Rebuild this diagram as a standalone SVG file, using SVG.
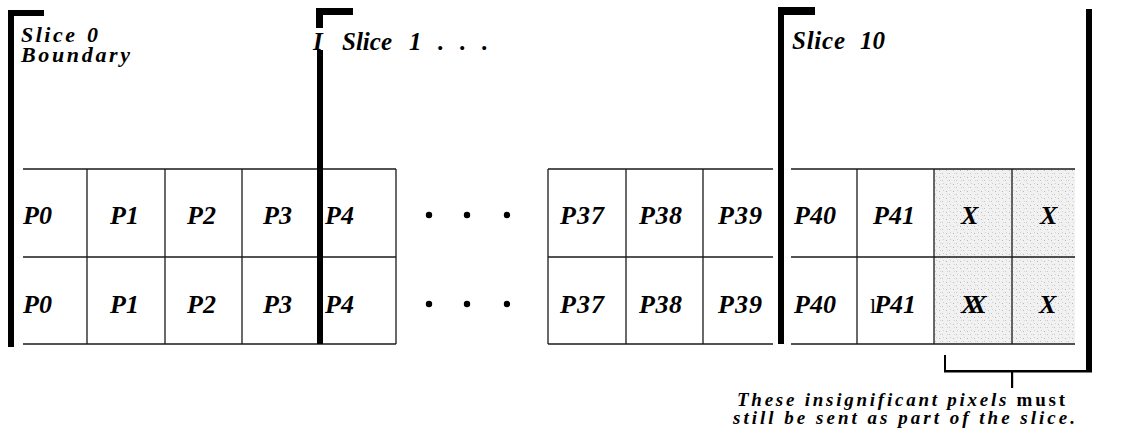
<svg xmlns="http://www.w3.org/2000/svg" width="1140" height="438" viewBox="0 0 1140 438">
  <defs>
    <pattern id="speckle" width="7" height="7" patternUnits="userSpaceOnUse">
      <rect width="7" height="7" fill="#f1f1f1"/>
      <rect x="1" y="2" width="1" height="1" fill="#b8b8b8"/>
      <rect x="4" y="5" width="1" height="1" fill="#c4c4c4"/>
      <rect x="5" y="1" width="1" height="1" fill="#cfcfcf"/>
      <rect x="2" y="5" width="1" height="1" fill="#d6d6d6"/>
    </pattern>
  </defs>
  <style>
    .bar { fill: #000; }
    .grid line { stroke: #1a1a1a; stroke-width: 1.3; }
    .cell text { font-family: "Liberation Serif", serif; font-weight: bold; font-style: italic; font-size: 26px; fill: #000; }
    .head { font-family: "Liberation Serif", serif; font-weight: bold; font-style: italic; fill: #000; }
    .note { font-family: "Liberation Serif", serif; font-weight: bold; font-style: italic; font-size: 19px; fill: #000; }
    .dot { fill: #000; }
    .bracket { fill: #000; }
  </style>

  <rect width="1140" height="438" fill="#fff"/>

  <!-- shaded (insignificant) pixels -->
  <rect x="934" y="169" width="141" height="175" fill="url(#speckle)"/>

  <!-- grid lines -->
  <g id="grid" class="grid">
    <line x1="23" y1="169" x2="396" y2="169"/>
    <line x1="23" y1="257" x2="396" y2="257"/>
    <line x1="23" y1="344" x2="396" y2="344"/>
    <line x1="87" y1="169" x2="87" y2="344"/>
    <line x1="165" y1="169" x2="165" y2="344"/>
    <line x1="242" y1="169" x2="242" y2="344"/>
    <line x1="396" y1="169" x2="396" y2="344"/>

    <line x1="548" y1="169" x2="773" y2="169"/>
    <line x1="548" y1="257" x2="773" y2="257"/>
    <line x1="548" y1="344" x2="773" y2="344"/>
    <line x1="548" y1="169" x2="548" y2="344"/>
    <line x1="626" y1="169" x2="626" y2="344"/>
    <line x1="703" y1="169" x2="703" y2="344"/>

    <line x1="791" y1="169" x2="1075" y2="169"/>
    <line x1="791" y1="257" x2="1075" y2="257"/>
    <line x1="791" y1="344" x2="1075" y2="344"/>
    <line x1="857" y1="169" x2="857" y2="344"/>
    <line x1="934" y1="169" x2="934" y2="344"/>
    <line x1="1012" y1="169" x2="1012" y2="344"/>
  </g>

  <!-- slice boundary bars -->
  <g id="slice-0-bar">
    <rect class="bar" x="8" y="10" width="36" height="6"/>
    <rect class="bar" x="8" y="10" width="6" height="337"/>
  </g>
  <g id="slice-1-bar">
    <rect class="bar" x="316" y="8" width="37" height="7"/>
    <rect class="bar" x="316" y="8" width="7" height="20"/>
    <rect class="bar" x="317" y="50" width="6" height="294"/>
  </g>
  <g id="slice-10-bar">
    <rect class="bar" x="778" y="7" width="37" height="8"/>
    <rect class="bar" x="778" y="7" width="6" height="337"/>
  </g>
  <g id="end-bar">
    <rect class="bar" x="1086" y="9" width="6" height="363"/>
  </g>

  <!-- slice headings -->
  <g id="slice-0-label" class="head">
    <text y="42" font-size="22"><tspan x="21" textLength="54">Slice</tspan><tspan x="87">0</tspan></text>
    <text x="21" y="62" font-size="22" textLength="109" lengthAdjust="spacing">Boundary</text>
  </g>
  <g id="slice-1-label" class="head">
    <text y="50" font-size="25"><tspan x="313">I</tspan><tspan x="342" textLength="50">Slice</tspan><tspan x="409">1</tspan><tspan x="438">.</tspan><tspan x="460">.</tspan><tspan x="482">.</tspan></text>
  </g>
  <g id="slice-10-label" class="head">
    <text y="49" font-size="25"><tspan x="792" textLength="53">Slice</tspan><tspan x="860">10</tspan></text>
  </g>

  <!-- row 1 pixels -->
  <g id="r1-p0" class="cell"><text x="23" y="224">P0</text></g>
  <g id="r1-p1" class="cell"><text x="110" y="224">P1</text></g>
  <g id="r1-p2" class="cell"><text x="187" y="224">P2</text></g>
  <g id="r1-p3" class="cell"><text x="263" y="224">P3</text></g>
  <g id="r1-p4" class="cell"><text x="325" y="224">P4</text></g>
  <g id="r1-more">
    <circle class="dot" cx="429" cy="215" r="3.2"/>
    <circle class="dot" cx="467" cy="215" r="3.2"/>
    <circle class="dot" cx="507" cy="215" r="3.2"/>
  </g>
  <g id="r1-p37" class="cell"><text x="560" y="224" textLength="44">P37</text></g>
  <g id="r1-p38" class="cell"><text x="639" y="224" textLength="43">P38</text></g>
  <g id="r1-p39" class="cell"><text x="718" y="224" textLength="44">P39</text></g>
  <g id="r1-p40" class="cell"><text x="794" y="224" textLength="42">P40</text></g>
  <g id="r1-p41" class="cell"><text x="873" y="224" textLength="42">P41</text></g>
  <g id="r1-x1" class="cell"><text x="961" y="224">X</text></g>
  <g id="r1-x2" class="cell"><text x="1040" y="224">X</text></g>

  <!-- row 2 pixels -->
  <g id="r2-p0" class="cell"><text x="23" y="313">P0</text></g>
  <g id="r2-p1" class="cell"><text x="110" y="313">P1</text></g>
  <g id="r2-p2" class="cell"><text x="187" y="313">P2</text></g>
  <g id="r2-p3" class="cell"><text x="263" y="313">P3</text></g>
  <g id="r2-p4" class="cell"><text x="325" y="313">P4</text></g>
  <g id="r2-more">
    <circle class="dot" cx="429" cy="304" r="3.2"/>
    <circle class="dot" cx="467" cy="304" r="3.2"/>
    <circle class="dot" cx="507" cy="304" r="3.2"/>
  </g>
  <g id="r2-p37" class="cell"><text x="560" y="313" textLength="44">P37</text></g>
  <g id="r2-p38" class="cell"><text x="639" y="313" textLength="43">P38</text></g>
  <g id="r2-p39" class="cell"><text x="718" y="313" textLength="44">P39</text></g>
  <g id="r2-p40" class="cell"><text x="794" y="313" textLength="42">P40</text></g>
  <g id="r2-p41" class="cell"><text x="870" y="313"><tspan font-style="normal" font-weight="normal" font-size="22">l</tspan><tspan dx="-2">P41</tspan></text></g>
  <g id="r2-x1" class="cell"><text x="961" y="313" letter-spacing="-9">XX</text></g>
  <g id="r2-x2" class="cell"><text x="1039" y="313">X</text></g>

  <!-- bracket pointing at the shaded pixels -->
  <g id="connectors">
    <rect class="bracket" x="944" y="355" width="2" height="17"/>
    <rect class="bracket" x="944" y="370" width="148" height="2.5"/>
    <rect class="bracket" x="1011" y="371" width="2.2" height="17"/>
  </g>

  <!-- annotation -->
  <g id="note" class="note">
    <text x="737" y="406" textLength="328" lengthAdjust="spacing">These insignificant pixels <tspan font-style="normal">must</tspan></text>
    <text x="733" y="424" textLength="342" lengthAdjust="spacing">still be sent as part of the slice.</text>
  </g>
</svg>
